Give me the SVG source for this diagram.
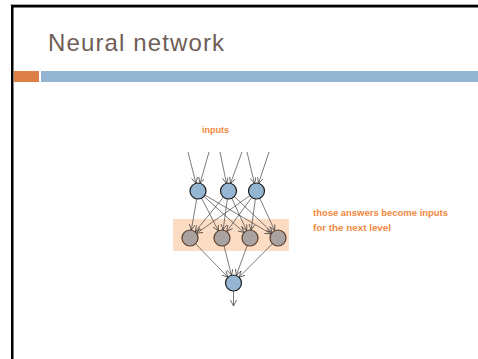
<svg xmlns="http://www.w3.org/2000/svg" width="478" height="359" viewBox="0 0 478 359">
<defs>
<marker id="arr" markerUnits="userSpaceOnUse" markerWidth="8" markerHeight="8" refX="6" refY="3" orient="auto">
<path d="M0,0 L6,3 L0,6" fill="none" stroke="#333" stroke-width="0.7"/>
</marker>
<style>
.in{fill:#94b6d2;stroke:#1a1a1a;stroke-width:1.2}
.hid{fill:#a8a3a0;stroke:#5b3d2e;stroke-width:1.2}
.c line{stroke:#444;stroke-width:0.7;marker-end:url(#arr)}
.or{font-family:"Liberation Sans",Arial,sans-serif;font-size:9px;font-weight:bold;fill:#f0883e}
</style>
</defs>
<rect width="478" height="359" fill="#fff"/>
<g id="frame">
<rect x="10" y="4" width="468" height="1" fill="#aaa"/>
<rect x="11" y="5" width="467" height="2.5" fill="#000"/>
<rect x="11" y="5" width="2.5" height="354" fill="#000"/>
</g>
<text x="48" y="51" font-family="'Liberation Sans',Arial,sans-serif" font-size="24" fill="#6f5d57" textLength="176">Neural network</text>
<rect x="14" y="71" width="25" height="11" fill="#dd8047"/>
<rect x="41" y="71" width="437" height="11" fill="#94b6d2"/>
<rect id="layer-box" x="173" y="219" width="116" height="32" fill="#fddcc4"/>
<text class="or" x="202" y="133" textLength="27" lengthAdjust="spacingAndGlyphs">inputs</text>
<text class="or" x="313" y="216" textLength="135" lengthAdjust="spacingAndGlyphs">those answers become inputs</text>
<text class="or" x="313" y="231" textLength="78" lengthAdjust="spacingAndGlyphs">for the next level</text>
<g id="connectors" class="c">
<line x1="188" y1="152" x2="196" y2="183.5"/>
<line x1="209" y1="152" x2="200" y2="183.5"/>
<line x1="220" y1="152" x2="226.5" y2="183.5"/>
<line x1="242" y1="152" x2="230.5" y2="183.5"/>
<line x1="247" y1="152" x2="254.5" y2="183.5"/>
<line x1="269" y1="152" x2="258.5" y2="183.5"/>
<line x1="196.7" y1="198.9" x2="191.3" y2="230.1"/>
<line x1="201.6" y1="198.1" x2="218.4" y2="230.9"/>
<line x1="203.9" y1="196.4" x2="244.1" y2="232.6"/>
<line x1="204.9" y1="195.1" x2="271.1" y2="233.9"/>
<line x1="223.4" y1="197.2" x2="195.1" y2="231.8"/>
<line x1="227.4" y1="198.9" x2="223.1" y2="230.1"/>
<line x1="231.8" y1="198.3" x2="246.7" y2="230.7"/>
<line x1="234.3" y1="196.5" x2="272.2" y2="232.5"/>
<line x1="250" y1="195.6" x2="196.5" y2="233.4"/>
<line x1="251.8" y1="197.4" x2="226.7" y2="231.6"/>
<line x1="255.4" y1="198.9" x2="251.1" y2="230.1"/>
<line x1="259.8" y1="198.3" x2="274.7" y2="230.7"/>
<line x1="195.6" y1="243.8" x2="227.9" y2="277.2"/>
<line x1="224" y1="245.8" x2="231.5" y2="275.2"/>
<line x1="247.2" y1="245.5" x2="236.3" y2="275.5"/>
<line x1="272.4" y1="243.7" x2="239.1" y2="277.3"/>
<line x1="233.5" y1="291" x2="233.5" y2="306"/>
</g>
<g id="in1"><circle class="in" cx="198" cy="191" r="8"/></g>
<g id="in2"><circle class="in" cx="228.5" cy="191" r="8"/></g>
<g id="in3"><circle class="in" cx="256.5" cy="191" r="8"/></g>
<g id="h1"><circle class="hid" cx="190" cy="238" r="8"/></g>
<g id="h2"><circle class="hid" cx="222" cy="238" r="8"/></g>
<g id="h3"><circle class="hid" cx="250" cy="238" r="8"/></g>
<g id="h4"><circle class="hid" cx="278" cy="238" r="8"/></g>
<g id="out"><circle class="in" cx="233.5" cy="283" r="8"/></g>
</svg>
